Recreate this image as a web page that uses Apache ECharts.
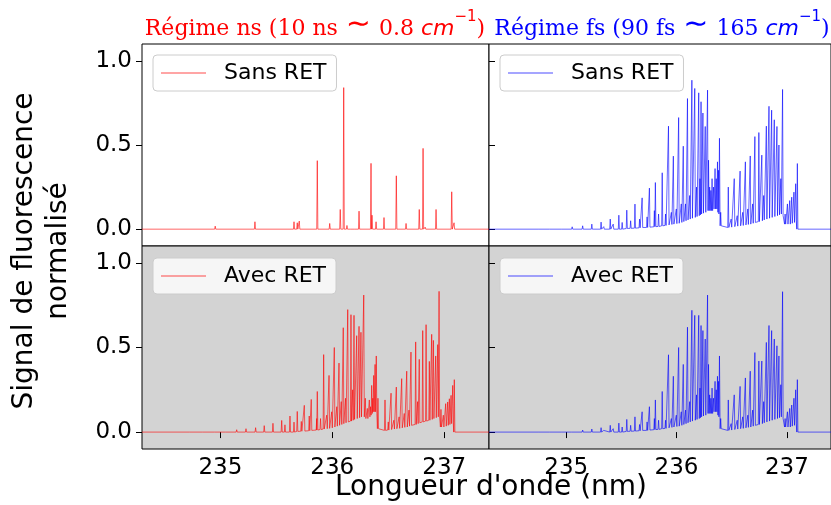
<!DOCTYPE html>
<html>
<head>
<meta charset="utf-8">
<script src="https://cdn.jsdelivr.net/npm/echarts@6/dist/echarts.min.js"></script>
<style>
  html, body { margin: 0; padding: 0; background: #fff; }
  #main { width: 831px; height: 505px; }
</style>
</head>
<body>
<div id="main"></div>
<script>
// wavelength (nm), peak height, optional foot level under the peak
var nsSans = [
  [234.954, 0.018], [235.309, 0.044], [235.658, 0.044], [235.687, 0.038], [235.705, 0.048],
  [235.866, 0.407], [235.977, 0.034], [236.071, 0.117], [236.102, 0.841], [236.131, 0.022],
  [236.170, 0.010], [236.200, 0.010], [236.239, 0.107], [236.346, 0.391], [236.355, 0.083],
  [236.391, 0.044], [236.462, 0.069], [236.572, 0.317], [236.659, 0.034], [236.777, 0.117],
  [236.811, 0.480], [236.830, 0.012], [236.927, 0.117], [237.067, 0.222], [237.088, 0.038]
];
var fsSans = [
  [234.750, 0.004], [234.854, 0.006], [234.959, 0.010], [235.054, 0.014], [235.149, 0.020],
  [235.232, 0.030], [235.316, 0.042], [235.340, 0.015], [235.399, 0.060], [235.426, 0.030],
  [235.477, 0.083], [235.507, 0.040], [235.549, 0.113, 0.004], [235.584, 0.050, 0.005],
  [235.623, 0.149, 0.006], [235.665, 0.060, 0.008], [235.688, 0.186, 0.010], [235.733, 0.073, 0.010],
  [235.754, 0.244, 0.012], [235.799, 0.110, 0.014], [235.808, 0.277, 0.015], [235.837, 0.090, 0.016],
  [235.870, 0.335, 0.020], [235.900, 0.090, 0.022], [235.927, 0.612, 0.025], [235.953, 0.100, 0.028],
  [235.971, 0.434, 0.030], [235.998, 0.120, 0.033], [236.019, 0.663, 0.035], [236.043, 0.150, 0.040],
  [236.061, 0.493, 0.045], [236.081, 0.150, 0.050], [236.099, 0.776, 0.055], [236.119, 0.200, 0.060],
  [236.139, 0.885, 0.065], [236.165, 0.836, 0.070], [236.181, 0.250, 0.075], [236.201, 0.810, 0.080],
  [236.212, 0.300, 0.085], [236.222, 0.757, 0.090], [236.239, 0.690, 0.095], [236.260, 0.610, 0.100],
  [236.281, 0.826, 0.110], [236.290, 0.410, 0.110], [236.300, 0.250, 0.110], [236.311, 0.230, 0.110],
  [236.322, 0.300, 0.110], [236.335, 0.250, 0.120], [236.349, 0.360, 0.120], [236.360, 0.300, 0.120],
  [236.371, 0.400, 0.110], [236.380, 0.350, 0.100], [236.389, 0.540, 0.090], [236.400, 0.100, 0.020],
  [236.469, 0.250, 0.010], [236.495, 0.060, 0.012], [236.523, 0.300, 0.015], [236.550, 0.080, 0.018],
  [236.576, 0.345, 0.020], [236.600, 0.100, 0.022], [236.624, 0.400, 0.025], [236.646, 0.120, 0.028],
  [236.668, 0.435, 0.030], [236.690, 0.150, 0.035], [236.710, 0.550, 0.040], [236.746, 0.574, 0.045],
  [236.773, 0.440, 0.050], [236.790, 0.200, 0.055], [236.814, 0.612, 0.060], [236.838, 0.730, 0.065],
  [236.862, 0.707, 0.070], [236.886, 0.650, 0.075], [236.910, 0.610, 0.080], [236.928, 0.500, 0.085],
  [236.945, 0.300, 0.090], [236.961, 0.830, 0.080], [236.984, 0.090, 0.030], [237.005, 0.150, 0.030],
  [237.026, 0.170, 0.030], [237.044, 0.190, 0.035], [237.064, 0.220, 0.040], [237.080, 0.270, 0.050],
  [237.095, 0.390, 0.000]
];
var nsAvec = [
  [234.728, 0.004], [234.847, 0.006], [234.952, 0.008], [235.050, 0.010], [235.146, 0.014],
  [235.229, 0.020], [235.315, 0.026], [235.392, 0.038], [235.470, 0.052], [235.548, 0.069],
  [235.577, 0.043], [235.622, 0.095], [235.658, 0.059], [235.687, 0.122, 0.004], [235.723, 0.063, 0.005],
  [235.750, 0.158, 0.006], [235.794, 0.095, 0.008], [235.812, 0.193, 0.010], [235.861, 0.080, 0.012],
  [235.866, 0.240, 0.012], [235.895, 0.080, 0.015], [235.923, 0.458, 0.018], [235.950, 0.100, 0.020],
  [235.971, 0.335, 0.022], [235.995, 0.120, 0.025], [236.018, 0.500, 0.030], [236.040, 0.150, 0.035],
  [236.060, 0.408, 0.040], [236.080, 0.180, 0.045], [236.098, 0.617, 0.050], [236.118, 0.200, 0.055],
  [236.138, 0.724, 0.060], [236.167, 0.694, 0.065], [236.182, 0.250, 0.070], [236.194, 0.690, 0.075],
  [236.218, 0.570, 0.080], [236.239, 0.625, 0.085], [236.256, 0.590, 0.090], [236.281, 0.810, 0.090],
  [236.295, 0.200, 0.080], [236.313, 0.140, 0.080], [236.331, 0.190, 0.090], [236.342, 0.150, 0.100],
  [236.352, 0.276, 0.110], [236.362, 0.200, 0.120], [236.370, 0.335, 0.120], [236.382, 0.400, 0.120],
  [236.393, 0.450, 0.110], [236.408, 0.200, 0.020], [236.471, 0.190, 0.010], [236.500, 0.060, 0.012],
  [236.525, 0.230, 0.015], [236.550, 0.070, 0.018], [236.572, 0.266, 0.020], [236.597, 0.090, 0.022],
  [236.620, 0.316, 0.025], [236.643, 0.110, 0.028], [236.665, 0.360, 0.030], [236.685, 0.130, 0.035],
  [236.703, 0.473, 0.040], [236.745, 0.533, 0.045], [236.762, 0.180, 0.050], [236.777, 0.430, 0.055],
  [236.808, 0.600, 0.060], [236.838, 0.635, 0.065], [236.867, 0.418, 0.070], [236.888, 0.578, 0.075],
  [236.903, 0.542, 0.080], [236.924, 0.450, 0.085], [236.942, 0.517, 0.090], [236.954, 0.832, 0.090],
  [236.971, 0.134, 0.030], [236.992, 0.100, 0.030], [237.013, 0.168, 0.035], [237.031, 0.178, 0.040],
  [237.046, 0.197, 0.045], [237.061, 0.217, 0.050], [237.076, 0.276, 0.055], [237.090, 0.310, 0.000]
];
var fsAvec = [
  [234.750, 0.002], [234.854, 0.004], [234.959, 0.006], [235.054, 0.008], [235.149, 0.012],
  [235.232, 0.018], [235.316, 0.026], [235.340, 0.010], [235.399, 0.040], [235.426, 0.020],
  [235.477, 0.053], [235.507, 0.030], [235.549, 0.075, 0.004], [235.584, 0.040, 0.005],
  [235.623, 0.090, 0.006], [235.665, 0.045, 0.008], [235.688, 0.120, 0.010], [235.733, 0.060, 0.010],
  [235.754, 0.150, 0.012], [235.799, 0.080, 0.014], [235.808, 0.190, 0.015], [235.837, 0.070, 0.016],
  [235.870, 0.240, 0.020], [235.900, 0.070, 0.022], [235.927, 0.457, 0.025], [235.953, 0.080, 0.028],
  [235.971, 0.330, 0.030], [235.998, 0.100, 0.033], [236.019, 0.500, 0.035], [236.043, 0.120, 0.040],
  [236.061, 0.400, 0.045], [236.081, 0.130, 0.050], [236.099, 0.620, 0.055], [236.119, 0.180, 0.060],
  [236.139, 0.720, 0.065], [236.165, 0.690, 0.070], [236.181, 0.220, 0.075], [236.201, 0.690, 0.080],
  [236.212, 0.260, 0.085], [236.222, 0.630, 0.090], [236.239, 0.600, 0.095], [236.260, 0.550, 0.100],
  [236.281, 0.810, 0.110], [236.290, 0.400, 0.110], [236.300, 0.220, 0.110], [236.311, 0.200, 0.110],
  [236.322, 0.260, 0.110], [236.335, 0.200, 0.120], [236.349, 0.300, 0.120], [236.360, 0.250, 0.120],
  [236.371, 0.330, 0.110], [236.380, 0.300, 0.100], [236.389, 0.450, 0.090], [236.400, 0.080, 0.020],
  [236.469, 0.190, 0.010], [236.495, 0.050, 0.012], [236.523, 0.220, 0.015], [236.550, 0.070, 0.018],
  [236.576, 0.270, 0.020], [236.600, 0.090, 0.022], [236.624, 0.320, 0.025], [236.646, 0.100, 0.028],
  [236.668, 0.360, 0.030], [236.690, 0.130, 0.035], [236.710, 0.470, 0.040], [236.746, 0.420, 0.045],
  [236.773, 0.420, 0.050], [236.790, 0.180, 0.055], [236.814, 0.530, 0.060], [236.838, 0.630, 0.065],
  [236.862, 0.600, 0.070], [236.886, 0.550, 0.075], [236.910, 0.510, 0.080], [236.928, 0.450, 0.085],
  [236.945, 0.280, 0.090], [236.961, 0.830, 0.080], [236.984, 0.080, 0.030], [237.005, 0.120, 0.030],
  [237.026, 0.140, 0.030], [237.044, 0.160, 0.035], [237.064, 0.200, 0.040], [237.080, 0.250, 0.050],
  [237.095, 0.310, 0.000]
];
var xTicks = [235, 236, 237];
var yTicks = [0, 0.5, 1.0];

var XMIN = 234.3, XMAX = 237.4, W = 0.005;
var FONT = 'DejaVu Sans';

function spectrum(peaks) {
  var pts = [[XMIN, 0], [XMAX, 0]];
  peaks.forEach(function (p) {
    var f = p[2] || 0;
    pts.push([p[0] - W, f], [p[0], p[1]], [p[0] + W, f]);
  });
  return pts.sort(function (a, b) { return a[0] - b[0]; });
}

function titleRich(color) {
  return {
    a: { fontFamily: 'DejaVu Serif', fontSize: 22, fill: color, lineHeight: 30, verticalAlign: 'bottom' },
    t: { fontFamily: FONT, fontSize: 30, fill: color, verticalAlign: 'middle', padding: [0, 1, 0, 1] },
    i: { fontFamily: FONT, fontStyle: 'italic', fontSize: 22, fill: color, verticalAlign: 'bottom' },
    s: { fontFamily: FONT, fontSize: 15, fill: color, verticalAlign: 'top' }
  };
}

var panels = [
  { name: 'Sans RET (ns)', data: nsSans, color: '#ff0000', left: 142, top: 44, height: 202, bg: '#ffffff', labelsX: false, labelsY: true },
  { name: 'Sans RET (fs)', data: fsSans, color: '#0000ff', left: 489, top: 44, height: 202, bg: '#ffffff', labelsX: false, labelsY: false },
  { name: 'Avec RET (ns)', data: nsAvec, color: '#ff0000', left: 142, top: 246, height: 203, bg: '#d3d3d3', labelsX: true, labelsY: true },
  { name: 'Avec RET (fs)', data: fsAvec, color: '#0000ff', left: 489, top: 246, height: 203, bg: '#d3d3d3', labelsX: true, labelsY: false }
];

var chart = echarts.init(document.getElementById('main'));
chart.setOption({
  animation: false,
  grid: panels.map(function (p) {
    return { left: p.left, top: p.top, width: 347, height: p.height, show: true,
      backgroundColor: p.bg, borderColor: '#000', borderWidth: 1 };
  }),
  xAxis: panels.map(function (p, i) {
    return {
      type: 'value', gridIndex: i, min: XMIN, max: XMAX,
      axisLine: { show: false }, splitLine: { show: false },
      axisTick: { show: p.labelsX, customValues: xTicks, length: 6, lineStyle: { color: '#000' } },
      axisLabel: { show: p.labelsX, customValues: xTicks, color: '#000', fontFamily: FONT, fontSize: 23, margin: 8 }
    };
  }),
  yAxis: panels.map(function (p, i) {
    return {
      type: 'value', gridIndex: i, min: -0.1, max: 1.1,
      axisLine: { show: false }, splitLine: { show: false },
      axisTick: { show: true, inside: !p.labelsY, customValues: yTicks, length: 6, lineStyle: { color: '#000' } },
      axisLabel: { show: p.labelsY, customValues: yTicks, color: '#000', fontFamily: FONT, fontSize: 23, margin: 10,
        formatter: function (v) { return v.toFixed(1); } }
    };
  }),
  legend: panels.map(function (p) {
    return {
      data: [p.name], left: p.left + 11, top: p.top + (p.top > 100 ? 12 : 11),
      orient: 'vertical', icon: 'rect', itemWidth: 45, itemHeight: 1,
      backgroundColor: 'rgba(255,255,255,0.8)', borderColor: '#cccccc', borderWidth: 1, borderRadius: 4,
      padding: [7, 10, 7, 8], selectedMode: false,
      formatter: function (n) { return n.replace(/ \((ns|fs)\)$/, ''); },
      textStyle: { color: '#000', fontFamily: FONT, fontSize: 22, padding: [0, 0, 0, 13] }
    };
  }),
  series: panels.map(function (p, i) {
    return {
      type: 'line', name: p.name, xAxisIndex: i, yAxisIndex: i,
      data: spectrum(p.data), showSymbol: false, symbol: 'none', sampling: null,
      color: p.color,
      lineStyle: { color: p.color, width: 1, opacity: 0.6 },
      itemStyle: { color: p.color, opacity: 0.7 }
    };
  }),
  graphic: [
    { type: 'text', x: 315, y: 25,
      style: { text: '{a|Régime ns (10 ns }{t|∼}{a| 0.8 }{i|cm}{s|−1}{a|)}', align: 'center', verticalAlign: 'middle',
        rich: titleRich('#ff0000') } },
    { type: 'text', x: 662, y: 25,
      style: { text: '{a|Régime fs (90 fs }{t|∼}{a| 165 }{i|cm}{s|−1}{a|)}', align: 'center', verticalAlign: 'middle',
        rich: titleRich('#0000ff') } },
    { type: 'text', x: 491, y: 488,
      style: { text: "Longueur d'onde (nm)", align: 'center', verticalAlign: 'middle',
        fontFamily: FONT, fontSize: 28, fill: '#000' } },
    { type: 'text', x: 42, y: 251, rotation: Math.PI / 2,
      style: { text: 'Signal de fluorescence\nnormalisé', align: 'center', verticalAlign: 'middle',
        fontFamily: FONT, fontSize: 28, lineHeight: 34, fill: '#000' } }
  ]
});
</script>
</body>
</html>
